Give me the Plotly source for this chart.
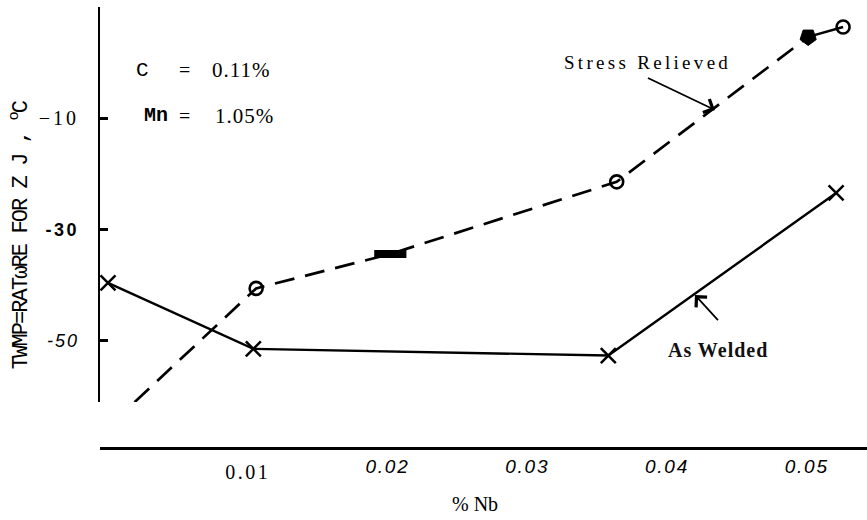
import plotly.graph_objects as go

# As-welded condition: % Nb vs temperature (°C)
aw_nb = [0.0, 0.0104, 0.0358, 0.0521]
aw_temp = [-39.7, -51.6, -52.8, -23.5]

# Stress-relieved condition (dashed trend, then short solid end segment)
sr_nb = [0.0019, 0.0106, 0.0202, 0.0364, 0.0501]
sr_temp = [-61.2, -40.7, -34.5, -21.5, 4.6]
sr_end_nb = [0.0501, 0.0526]
sr_end_temp = [4.6, 6.4]

# Which stress-relieved points carry which symbol
sr_open_idx = [1, 3]          # open circles on the dashed trend
sr_bar_idx = [2]              # solid bar
sr_filled_idx = [4]           # filled shield

x_ticks = [0.01, 0.02, 0.03, 0.04, 0.05]
x_tick_labels = ["0.01", "0.02", "0.03", "0.04", "0.05"]
y_ticks = [-10, -30, -50]
y_tick_labels = ["\u221210", "-30", "-50"]

X_RANGE = [-0.000572, 0.05431]
Y_RANGE = [-61.17, 10.0]

SERIF = "Liberation Serif"
SANS = "Liberation Sans"
MONO = "Liberation Mono"

x_label_styles = [
    f"font-family:{SERIF};font-size:20px;letter-spacing:2.5px;baseline-shift:-6px",
    f"font-family:{SANS};font-style:italic;font-size:19px;letter-spacing:1.8px",
    f"font-family:{SANS};font-style:italic;font-size:19px;letter-spacing:1.8px",
    f"font-family:{SANS};font-style:italic;font-size:19px;letter-spacing:1.8px",
    f"font-family:{SANS};font-style:italic;font-size:19px;letter-spacing:1.8px",
]
y_label_styles = [
    f"font-family:{SERIF};font-size:20px;letter-spacing:3px",
    f"font-family:{SANS};font-weight:bold;font-size:18px;letter-spacing:2.5px",
    f"font-family:{SANS};font-style:italic;font-size:18px;letter-spacing:2px",
]


def styled(texts, styles):
    return [f'<span style="{s}">{t}</span>' for t, s in zip(texts, styles)]


def pick(values, idx):
    return [values[i] for i in idx]


fig = go.Figure()

# Stress relieved: dashed trend line
fig.add_trace(go.Scatter(
    x=sr_nb, y=sr_temp, mode="lines",
    line=dict(color="black", width=2.7, dash="20px,11px"),
    hoverinfo="skip", showlegend=False,
))
# Stress relieved: solid end segment
fig.add_trace(go.Scatter(
    x=sr_end_nb, y=sr_end_temp, mode="lines",
    line=dict(color="black", width=2.4),
    hoverinfo="skip", showlegend=False,
))
# Stress relieved: open circles
fig.add_trace(go.Scatter(
    x=pick(sr_nb, sr_open_idx) + sr_end_nb[1:],
    y=pick(sr_temp, sr_open_idx) + sr_end_temp[1:],
    mode="markers",
    marker=dict(symbol="circle-open", size=13, color="black",
                line=dict(color="black", width=2.6)),
    cliponaxis=False, hoverinfo="skip", showlegend=False,
))
# Stress relieved: solid bar
fig.add_trace(go.Scatter(
    x=pick(sr_nb, sr_bar_idx), y=pick(sr_temp, sr_bar_idx),
    mode="markers",
    marker=dict(symbol="line-ew", size=23, color="black",
                line=dict(color="black", width=8)),
    cliponaxis=False, hoverinfo="skip", showlegend=False,
))
# Stress relieved: filled shield
fig.add_trace(go.Scatter(
    x=pick(sr_nb, sr_filled_idx), y=pick(sr_temp, sr_filled_idx),
    mode="markers",
    marker=dict(symbol="pentagon", angle=180, size=17, color="black",
                line=dict(color="black", width=1)),
    cliponaxis=False, hoverinfo="skip", showlegend=False,
))

# As welded: solid line with x markers
fig.add_trace(go.Scatter(
    x=aw_nb, y=aw_temp, mode="lines+markers",
    line=dict(color="black", width=2.4),
    marker=dict(symbol="x-thin-open", size=15, color="black",
                line=dict(color="black", width=2.5)),
    cliponaxis=False, hoverinfo="skip", showlegend=False,
))

# Composition notes
notes = [
    ("C", 0.0025, -1.4, dict(family=MONO, size=21)),
    ("=", 0.0055, -1.4, dict(family=SERIF, size=20)),
    ('<span style="letter-spacing:1px">0.11%</span>', 0.00955, -1.4, dict(family=SERIF, size=21)),
    ("<b>Mn</b>", 0.0034, -9.6, dict(family=MONO, size=20)),
    ("=", 0.0055, -9.6, dict(family=SERIF, size=20)),
    ('<span style="letter-spacing:1px">1.05%</span>', 0.00975, -9.6, dict(family=SERIF, size=21)),
]
for text, xv, yv, font in notes:
    fig.add_annotation(x=xv, y=yv, xref="x", yref="y", text=text, showarrow=False,
                       font=dict(color="black", **font), xanchor="center", yanchor="middle")

# Curve labels, each with its pointer arrow (text sits at the arrow tail)
fig.add_annotation(
    x=0.04343, y=-8.56, xref="x", yref="y",
    text='<span style="letter-spacing:3.3px">Stress Relieved</span>',
    font=dict(family=SERIF, size=19, color="black"),
    showarrow=True, ax=-67, ay=-32, xanchor="center", yanchor="bottom",
    borderpad=4, arrowhead=4, arrowsize=1.6, arrowwidth=1.8,
    arrowcolor="black", standoff=0,
)
fig.add_annotation(
    x=0.0420, y=-41.9, xref="x", yref="y",
    text='<b><span style="letter-spacing:1px">As Welded</span></b>',
    font=dict(family=SERIF, size=20, color="#111111"),
    showarrow=True, ax=23, ay=25, xanchor="center", yanchor="top",
    borderpad=18, arrowhead=4, arrowsize=1.6, arrowwidth=1.8,
    arrowcolor="black", standoff=0,
)

# Axis titles
fig.add_annotation(
    x=-0.104, y=0.483, xref="paper", yref="paper",
    text='<span style="letter-spacing:-1.9px">TWMP=RATωRE FOR Z J , <sup>o</sup>C</span>',
    textangle=-90, showarrow=False,
    font=dict(family=MONO, size=22, color="black"),
    xanchor="center", yanchor="middle",
)
fig.add_annotation(
    x=0.489, y=-0.128, xref="paper", yref="paper",
    text="% Nb", showarrow=False,
    font=dict(family=SERIF, size=20, color="black"),
    xanchor="center", yanchor="middle",
)

fig.update_layout(
    width=867, height=520,
    margin=dict(l=100, r=0, t=7, b=72),
    paper_bgcolor="white", plot_bgcolor="white",
    showlegend=False,
    xaxis=dict(
        range=X_RANGE, domain=[0, 1],
        anchor="free", position=0,
        showline=True, linecolor="black", linewidth=3,
        showgrid=False, zeroline=False,
        ticks="", tickvals=x_ticks,
        ticktext=styled(x_tick_labels, x_label_styles),
        tickfont=dict(color="black", size=19),
        ticklabelstandoff=0,
    ),
    yaxis=dict(
        range=Y_RANGE, domain=[0.1043, 1],
        anchor="x",
        showline=True, linecolor="black", linewidth=2.2,
        showgrid=False, zeroline=False,
        ticks="inside", ticklen=8, tickwidth=2.5, tickcolor="black",
        tickvals=y_ticks,
        ticktext=styled(y_tick_labels, y_label_styles),
        tickfont=dict(color="black", size=19),
        ticklabelstandoff=15,
    ),
)

fig.write_html("out.html")
